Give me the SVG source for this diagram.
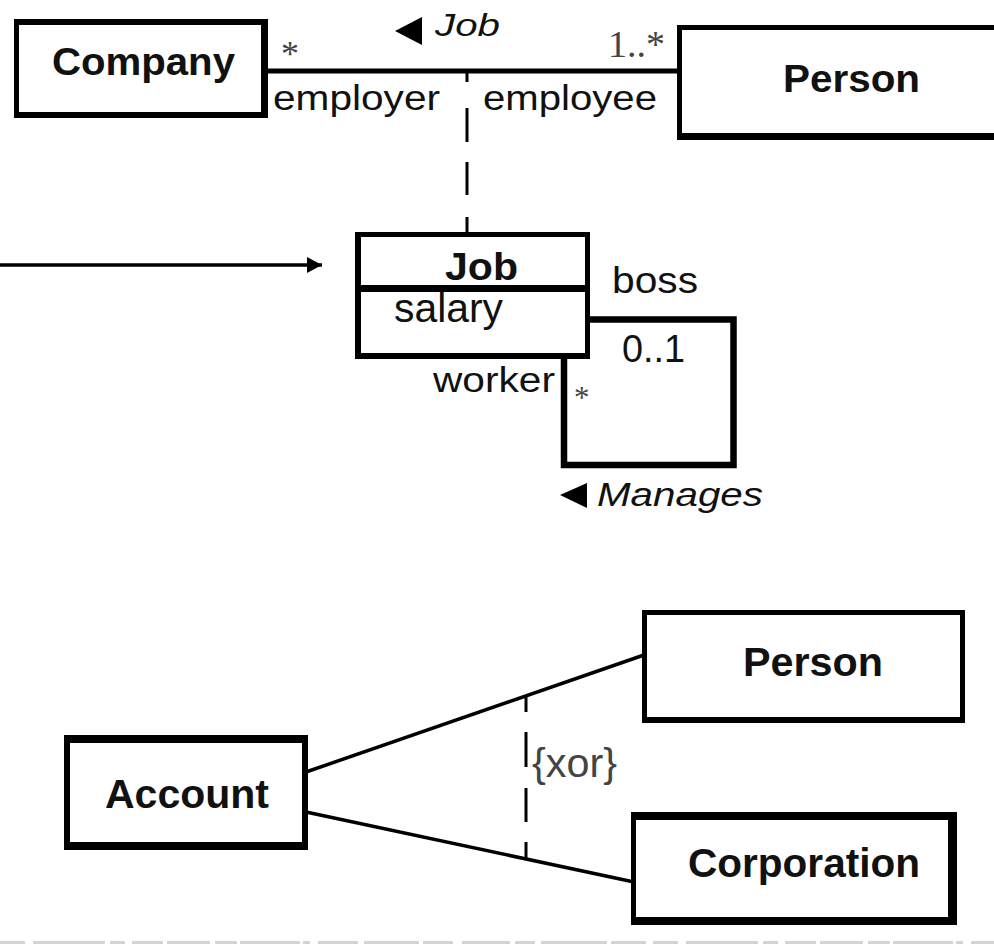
<svg xmlns="http://www.w3.org/2000/svg" width="994" height="944" viewBox="0 0 994 944">
  <style>
    .frame { fill: #000; }
    .face { fill: #fff; }
    .name { font-family: "Liberation Sans", Arial, sans-serif; font-weight: bold; fill: #111; }
    .lbl { font-family: "Liberation Sans", Arial, sans-serif; fill: #111; }
    .it { font-family: "Liberation Sans", Arial, sans-serif; font-style: italic; fill: #111; }
    .mult { font-family: "Liberation Serif", "Times New Roman", serif; fill: #444; }
    .assoc { stroke: #000; fill: none; }
    .dash { stroke: #000; stroke-width: 3; fill: none; }
  </style>
  <defs>
    <marker id="arrow" viewBox="0 0 15 16" refX="15" refY="8" markerWidth="15" markerHeight="16" markerUnits="userSpaceOnUse" orient="auto">
      <path d="M0,0 L15,8 L0,16 Z" fill="#000"/>
    </marker>
  </defs>

  <rect width="994" height="944" fill="#fff"/>

  <!-- connectors -->
  <g id="connectors">
    <!-- Job association between Company and Person -->
    <line class="assoc" x1="266" y1="71" x2="680" y2="71" stroke-width="5"/>
    <!-- association class link -->
    <path class="dash" d="M467,71 V82 M467,108 V142 M467,162 V195 M467,217 V234"/>
    <!-- pointer arrow -->
    <line x1="0" y1="265" x2="322" y2="265" stroke="#000" stroke-width="3.5" marker-end="url(#arrow)"/>
    <!-- Manages self association -->
    <polyline class="assoc" stroke-width="6.5" points="589,319.5 733.5,319.5 733.5,465 564,465 564,352"/>
    <!-- Account associations -->
    <line class="assoc" x1="306" y1="772" x2="644" y2="655" stroke-width="3.5"/>
    <line class="assoc" x1="306" y1="812" x2="634" y2="882" stroke-width="3.5"/>
    <!-- xor constraint -->
    <path class="dash" d="M526,695 V712 M526,732 V767 M526,788 V822 M526,842 V859"/>
  </g>

  <!-- Job association labels -->
  <g id="job-assoc-labels">
    <polygon points="395,31 422,17 422,45" fill="#000"/>
    <text class="it" x="435" y="36" font-size="32" textLength="65" lengthAdjust="spacingAndGlyphs">Job</text>
    <text class="mult" x="281" y="66" font-size="36">*</text>
    <text class="mult" x="608" y="57" font-size="37" textLength="57" lengthAdjust="spacingAndGlyphs">1..*</text>
    <text class="lbl" x="273" y="110" font-size="35" textLength="167" lengthAdjust="spacingAndGlyphs">employer</text>
    <text class="lbl" x="483" y="110" font-size="35" textLength="174" lengthAdjust="spacingAndGlyphs">employee</text>
  </g>

  <g id="company">
    <rect class="frame" x="14" y="19" width="254" height="99"/>
    <rect class="face" x="19" y="25" width="242" height="87"/>
    <text class="name" x="52" y="75" font-size="38" textLength="183" lengthAdjust="spacingAndGlyphs">Company</text>
  </g>

  <g id="person-top">
    <rect class="frame" x="677" y="25" width="330" height="115"/>
    <rect class="face" x="682" y="30" width="330" height="103"/>
    <text class="name" x="783" y="92" font-size="38" textLength="137" lengthAdjust="spacingAndGlyphs">Person</text>
  </g>

  <g id="job">
    <rect class="frame" x="355" y="232" width="235" height="127"/>
    <rect class="face" x="361" y="237" width="224" height="116"/>
    <rect class="frame" x="355" y="285" width="235" height="7"/>
    <text class="name" x="445" y="280" font-size="39" textLength="73" lengthAdjust="spacingAndGlyphs">Job</text>
    <text class="lbl" x="394" y="322" font-size="40" textLength="109" lengthAdjust="spacingAndGlyphs">salary</text>
  </g>

  <!-- Manages labels -->
  <g id="manages-labels">
    <text class="lbl" x="612" y="293" font-size="36" textLength="86" lengthAdjust="spacingAndGlyphs">boss</text>
    <text class="lbl" x="622" y="362" font-size="38" textLength="63" lengthAdjust="spacingAndGlyphs">0..1</text>
    <text class="lbl" x="433" y="392" font-size="35" textLength="122" lengthAdjust="spacingAndGlyphs">worker</text>
    <text class="mult" x="574" y="408" font-size="31">*</text>
    <polygon points="560,495 587,483 587,508" fill="#000"/>
    <text class="it" x="597" y="506" font-size="33" textLength="166" lengthAdjust="spacingAndGlyphs">Manages</text>
  </g>

  <g id="account">
    <rect class="frame" x="64" y="735" width="244" height="115"/>
    <rect class="face" x="70" y="743" width="232" height="99"/>
    <text class="name" x="105" y="808" font-size="41" textLength="164" lengthAdjust="spacingAndGlyphs">Account</text>
  </g>

  <g id="person-bottom">
    <rect class="frame" x="642" y="610" width="323" height="113"/>
    <rect class="face" x="647" y="615" width="313" height="102"/>
    <text class="name" x="743" y="676" font-size="40" textLength="140" lengthAdjust="spacingAndGlyphs">Person</text>
  </g>

  <g id="corporation">
    <rect class="frame" x="631" y="812" width="326" height="113"/>
    <rect class="face" x="636" y="820" width="312" height="97"/>
    <text class="name" x="688" y="877" font-size="40" textLength="232" lengthAdjust="spacingAndGlyphs">Corporation</text>
  </g>

  <text class="lbl" x="532" y="777" font-size="40" fill="#444" style="fill:#444" textLength="85" lengthAdjust="spacingAndGlyphs">{xor}</text>

  <!-- clipped rule along the lower edge -->
  <line x1="0" y1="942.5" x2="994" y2="942.5" stroke="#d4d4d4" stroke-width="3" stroke-dasharray="25,8,72,5,15,7,31,4,43,5,22,3,60,3,7,8,40,6,55,4,30,9,48,5,20,6,66,4,35,7"/>
</svg>
